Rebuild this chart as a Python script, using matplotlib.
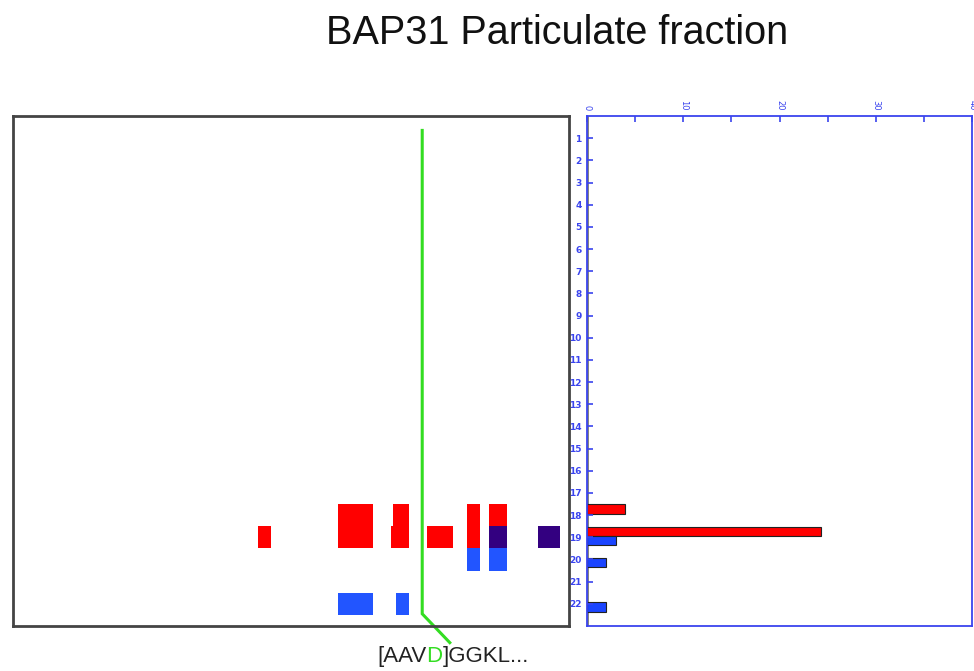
import matplotlib
matplotlib.use("Agg")
import matplotlib.pyplot as plt
from matplotlib.ticker import MultipleLocator

# cleavage-site map, particulate fraction
# peptide cells in the left map: start/end residue, row (fraction), kind
cell_x0 = [73, 85.5, 102, 107, 55, 73, 85, 93, 102, 107, 118, 102, 107, 73, 86]
cell_x1 = [81, 89, 105, 111, 58, 81, 89, 99, 105, 111, 123, 105, 111, 81, 89]
cell_row = [18, 18, 18, 18, 19, 19, 19, 19, 19, 19, 19, 20, 20, 22, 22]
cell_kind = ['red', 'red', 'red', 'red', 'red', 'red', 'red', 'red', 'red',
             'purple', 'purple', 'blue', 'blue', 'blue', 'blue']

cleavage_pos = 92

# histogram on the right
red_rows = [18, 19]
red_vals = [3.9, 24.3]
blue_rows = [19, 20, 22]
blue_vals = [3.0, 2.0, 2.0]

row_ticks = list(range(1, 23))
count_ticks = [0, 10, 20, 30, 40]

colors = {'red': '#ff0000', 'blue': '#2255ff', 'purple': '#330080'}
axis_blue = '#3a44ee'
green = '#33dd22'

fig = plt.figure(figsize=(9.74, 6.71), dpi=100)
W, H = 974, 671

def px_box(x0, y0, x1, y1):
    return [x0 / W, 1 - y1 / H, (x1 - x0) / W, (y1 - y0) / H]

# ── left panel: peptide map ──
ax1 = fig.add_axes(px_box(13, 116, 569, 626))
for x0, x1, r, k in zip(cell_x0, cell_x1, cell_row, cell_kind):
    ax1.bar(x0, 1, width=x1 - x0, bottom=r - 0.5, align='edge',
            color=colors[k], linewidth=0)
ax1.set_xlim(0, 125)
ax1.set_ylim(23, 0)
ax1.set_xticks([])
ax1.set_yticks([])
for s in ax1.spines.values():
    s.set_color('#444444')
    s.set_linewidth(2)

# green cleavage marker, bending down to the sequence label
ax1.plot([cleavage_pos, cleavage_pos, 98.2], [0.65, 22.45, 23.75],
         color=green, lw=2.2, clip_on=False, solid_joinstyle='miter')

# ── right panel: counts per fraction ──
ax2 = fig.add_axes(px_box(587, 116, 972, 626))
ax2.barh([r - 0.27 for r in red_rows], red_vals, height=0.42,
         color=colors['red'], edgecolor='#222222', linewidth=0.8)
ax2.barh([r + 0.15 for r in blue_rows], blue_vals, height=0.42,
         color='#1a44ff', edgecolor='#222222', linewidth=0.8)
ax2.set_xlim(0, 40)
ax2.set_ylim(23, 0)
ax2.xaxis.tick_top()
ax2.set_xticks(count_ticks)
ax2.set_xticklabels([str(v) for v in count_ticks], rotation=-90)
ax2.xaxis.set_minor_locator(MultipleLocator(5))
ax2.set_yticks(row_ticks)
ax2.set_yticklabels([str(v) for v in row_ticks])
ax2.tick_params(axis='x', which='both', direction='in', length=4, width=1.2,
                color=axis_blue, labelcolor=axis_blue, labelsize=6, pad=4)
ax2.tick_params(axis='y', direction='in', length=4, width=1.2,
                color=axis_blue, labelcolor=axis_blue, labelsize=6.5, pad=4)
for lab in ax2.get_yticklabels():
    lab.set_fontweight('bold')
for s in ax2.spines.values():
    s.set_color(axis_blue)
    s.set_linewidth(1.3)
ax2.axvline(0.15, color='#777777', lw=1.3, zorder=0)

# title
fig.text(557 / W, 1 - 33 / H, 'BAP31 Particulate fraction', ha='center', va='center',
         fontsize=28.5, family='Liberation Sans', color='#111111')

# sequence label with the cleaved residue in green
parts = [('[AAV', '#222222'), ('D', green), (']GGKL...', '#222222')]
renderer = fig.canvas.get_renderer()
x = 377 / W
y = 1 - 662 / H
for txt, c in parts:
    t = fig.text(x, y, txt, ha='left', va='baseline', fontsize=16,
                 family='Liberation Sans', color=c)
    bb = t.get_window_extent(renderer=renderer)
    x += bb.width / W

fig.savefig('out.png', dpi=100)
